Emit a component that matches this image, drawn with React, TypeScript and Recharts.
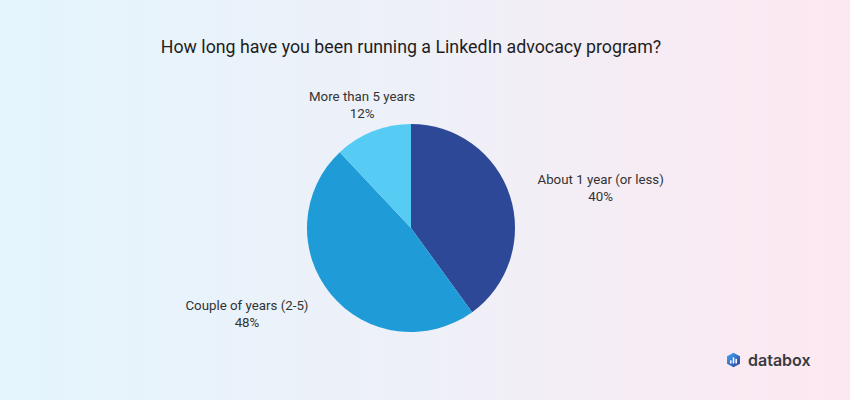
import React from "react";
import { PieChart, Pie, Cell } from "recharts";

const categories = ["About 1 year (or less)", "Couple of years (2-5)", "More than 5 years"];
const values = [40, 48, 12];
const colors = ["#2D4897", "#1F9BD8", "#56CCF4"];
const title = "How long have you been running a LinkedIn advocacy program?";

const data = categories.map((name, i) => ({ name, value: values[i] }));

const FONT = "13.3px Roboto";
let ctx: CanvasRenderingContext2D | null = null;
function measure(t: string): number {
  if (!ctx) ctx = document.createElement("canvas").getContext("2d");
  if (!ctx) return t.length * 6;
  ctx.font = FONT;
  return ctx.measureText(t).width;
}

const RADIAN = Math.PI / 180;
const renderLabel = (props: any) => {
  const { cx, cy, midAngle, outerRadius, name, value } = props;
  const r = outerRadius + 29;
  const c = Math.cos(-midAngle * RADIAN);
  const s = Math.sin(-midAngle * RADIAN);
  const px = cx + r * c;
  const py = cy + r * s;
  const w = Math.max(measure(name), measure(`${value}%`));
  let centerX = px;
  if (c > 0.5) centerX = px + w / 2;
  else if (c < -0.5) centerX = px - w / 2;
  return (
    <text
      x={centerX}
      y={py}
      textAnchor="middle"
      fill="#333333"
      style={{ fontFamily: "Roboto", fontSize: 13.3 }}
    >
      <tspan x={centerX} dy={-3}>{name}</tspan>
      <tspan x={centerX} dy={17}>{`${value}%`}</tspan>
    </text>
  );
};

export default function App() {
  return (
    <div
      style={{
        position: "absolute",
        top: 0,
        left: 0,
        width: 850,
        height: 400,
        background: "linear-gradient(90deg, #E4F5FD 0%, #EEF0F8 50%, #FDE8F1 100%)",
        fontFamily: "Roboto",
        overflow: "hidden",
      }}
    >
      <div
        style={{
          position: "absolute",
          top: 36,
          left: -14,
          width: 850,
          textAlign: "center",
          fontSize: 17.8,
          color: "#1E1E1E",
        }}
      >
        {title}
      </div>
      <div style={{ position: "absolute", top: 0, left: 0 }}>
        <PieChart width={850} height={400} margin={{ top: 0, right: 0, bottom: 0, left: 0 }}>
          <Pie
            data={data}
            dataKey="value"
            nameKey="name"
            cx={411}
            cy={228}
            outerRadius={104}
            startAngle={90}
            endAngle={-270}
            stroke="none"
            label={renderLabel}
            labelLine={false}
            isAnimationActive={false}
          >
            {data.map((d, i) => (
              <Cell key={d.name} fill={colors[i]} />
            ))}
          </Pie>
        </PieChart>
      </div>
      <div
        style={{
          position: "absolute",
          left: 727,
          top: 350,
          display: "flex",
          alignItems: "center",
        }}
      >
        <svg width={13} height={16} viewBox="0 0 17 19">
          <defs>
            <linearGradient id="lg" x1="0" y1="0" x2="1" y2="1">
              <stop offset="0%" stopColor="#3FA9F5" />
              <stop offset="100%" stopColor="#2D3E9A" />
            </linearGradient>
          </defs>
          <path d="M8.5 0 L17 4.75 L17 14.25 L8.5 19 L0 14.25 L0 4.75 Z" fill="url(#lg)" />
          <rect x={4} y={10} width={2} height={4} fill="#fff" />
          <rect x={7.5} y={6} width={2} height={8} fill="#fff" />
          <rect x={11} y={8} width={2} height={6} fill="#fff" />
        </svg>
        <span style={{ marginLeft: 8, fontSize: 16, fontWeight: 600, color: "#3A3A3F", fontFamily: "Inter", letterSpacing: 0 }}>
          databox
        </span>
      </div>
    </div>
  );
}
